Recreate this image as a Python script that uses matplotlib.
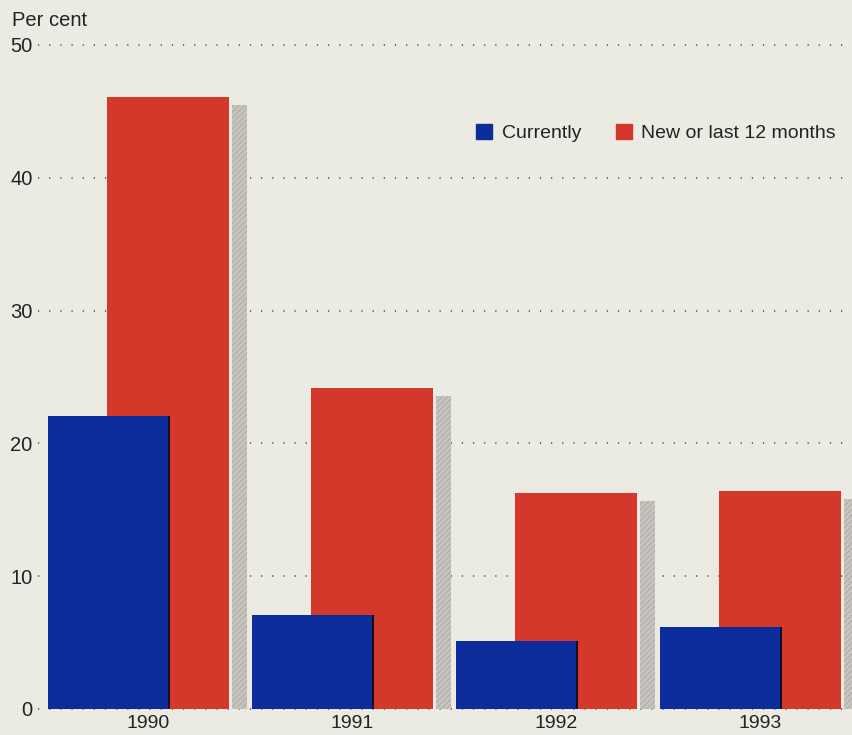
import matplotlib
matplotlib.use("Agg")
import matplotlib.pyplot as plt
from matplotlib.patches import Rectangle

years = ["1990", "1991", "1992", "1993"]
currently = [22.1, 7.1, 5.1, 6.2]
new_last12 = [46.1, 24.2, 16.3, 16.4]
yticks = [0, 10, 20, 30, 40, 50]

BG = "#ecebe3"
BLUE = "#0c2c9c"
RED = "#d3382b"
SHADOW = "#c6c4bf"

plt.rcParams['font.family'] = ['Liberation Sans', 'DejaVu Sans']
plt.rcParams['hatch.color'] = '#a9a6a0'
plt.rcParams['hatch.linewidth'] = 0.6

fig = plt.figure(figsize=(8.52, 7.35), dpi=100, facecolor=BG)
ax = fig.add_axes([38/852, 26/735, 1 - 38/852, (709-45)/735])
ax.set_facecolor(BG)

w = 0.598
red_off = 0.291
sh_off = 0.902
sh_w = 0.072
x = list(range(len(years)))

# gridlines
for t in yticks:
    ax.axhline(t, color="#444444", lw=1.1, linestyle=(0, (0.8, 6.5)), zorder=0, clip_on=False)

# shadows
ax.bar([i + sh_off for i in x], [v - 0.6 for v in new_last12], width=sh_w, align='edge',
       color=SHADOW, hatch='//////', edgecolor='#aaa79f', linewidth=0, zorder=1)
# red bars
ax.bar([i + red_off for i in x], new_last12, width=w, align='edge', color=RED,
       edgecolor='none', zorder=2)
# blue bars
ax.bar(x, currently, width=w, align='edge', color=BLUE, edgecolor='none', zorder=3)
ax.bar([i + w - 0.008 for i in x], currently, width=0.008, align='edge', color='#101020',
       edgecolor='none', zorder=4)

ax.set_xlim((38 - 48) / 204, (852 - 48) / 204)
ax.set_ylim(0, 50)
for s in ax.spines.values():
    s.set_visible(False)
ax.set_yticks(yticks)
ax.set_yticklabels([str(t) for t in yticks], fontsize=14.5, color="#222222")
ax.tick_params(axis='y', length=0, pad=4)
ax.set_xticks([i + 0.49 for i in x])
ax.set_xticklabels(years, fontsize=14, color="#222222")
ax.tick_params(axis='x', length=0, pad=4)

fig.text(12/852, 1 - 21/735, "Per cent", fontsize=14.5, color="#222222", va='center', ha='left')

# legend
handles = [Rectangle((0, 0), 1, 1, color=BLUE), Rectangle((0, 0), 1, 1, color=RED)]
leg = fig.legend(handles, ["Currently", "New or last 12 months"], loc='upper right',
                 bbox_to_anchor=(836/852, 1 - 124/735), bbox_transform=fig.transFigure,
                 ncol=2, frameon=False, fontsize=14, handlelength=0.8, handleheight=0.8,
                 handletextpad=0.5, columnspacing=1.8, borderaxespad=0, borderpad=0)
for t in leg.get_texts():
    t.set_color("#222222")

fig.savefig("out.png", dpi=100, facecolor=BG)
